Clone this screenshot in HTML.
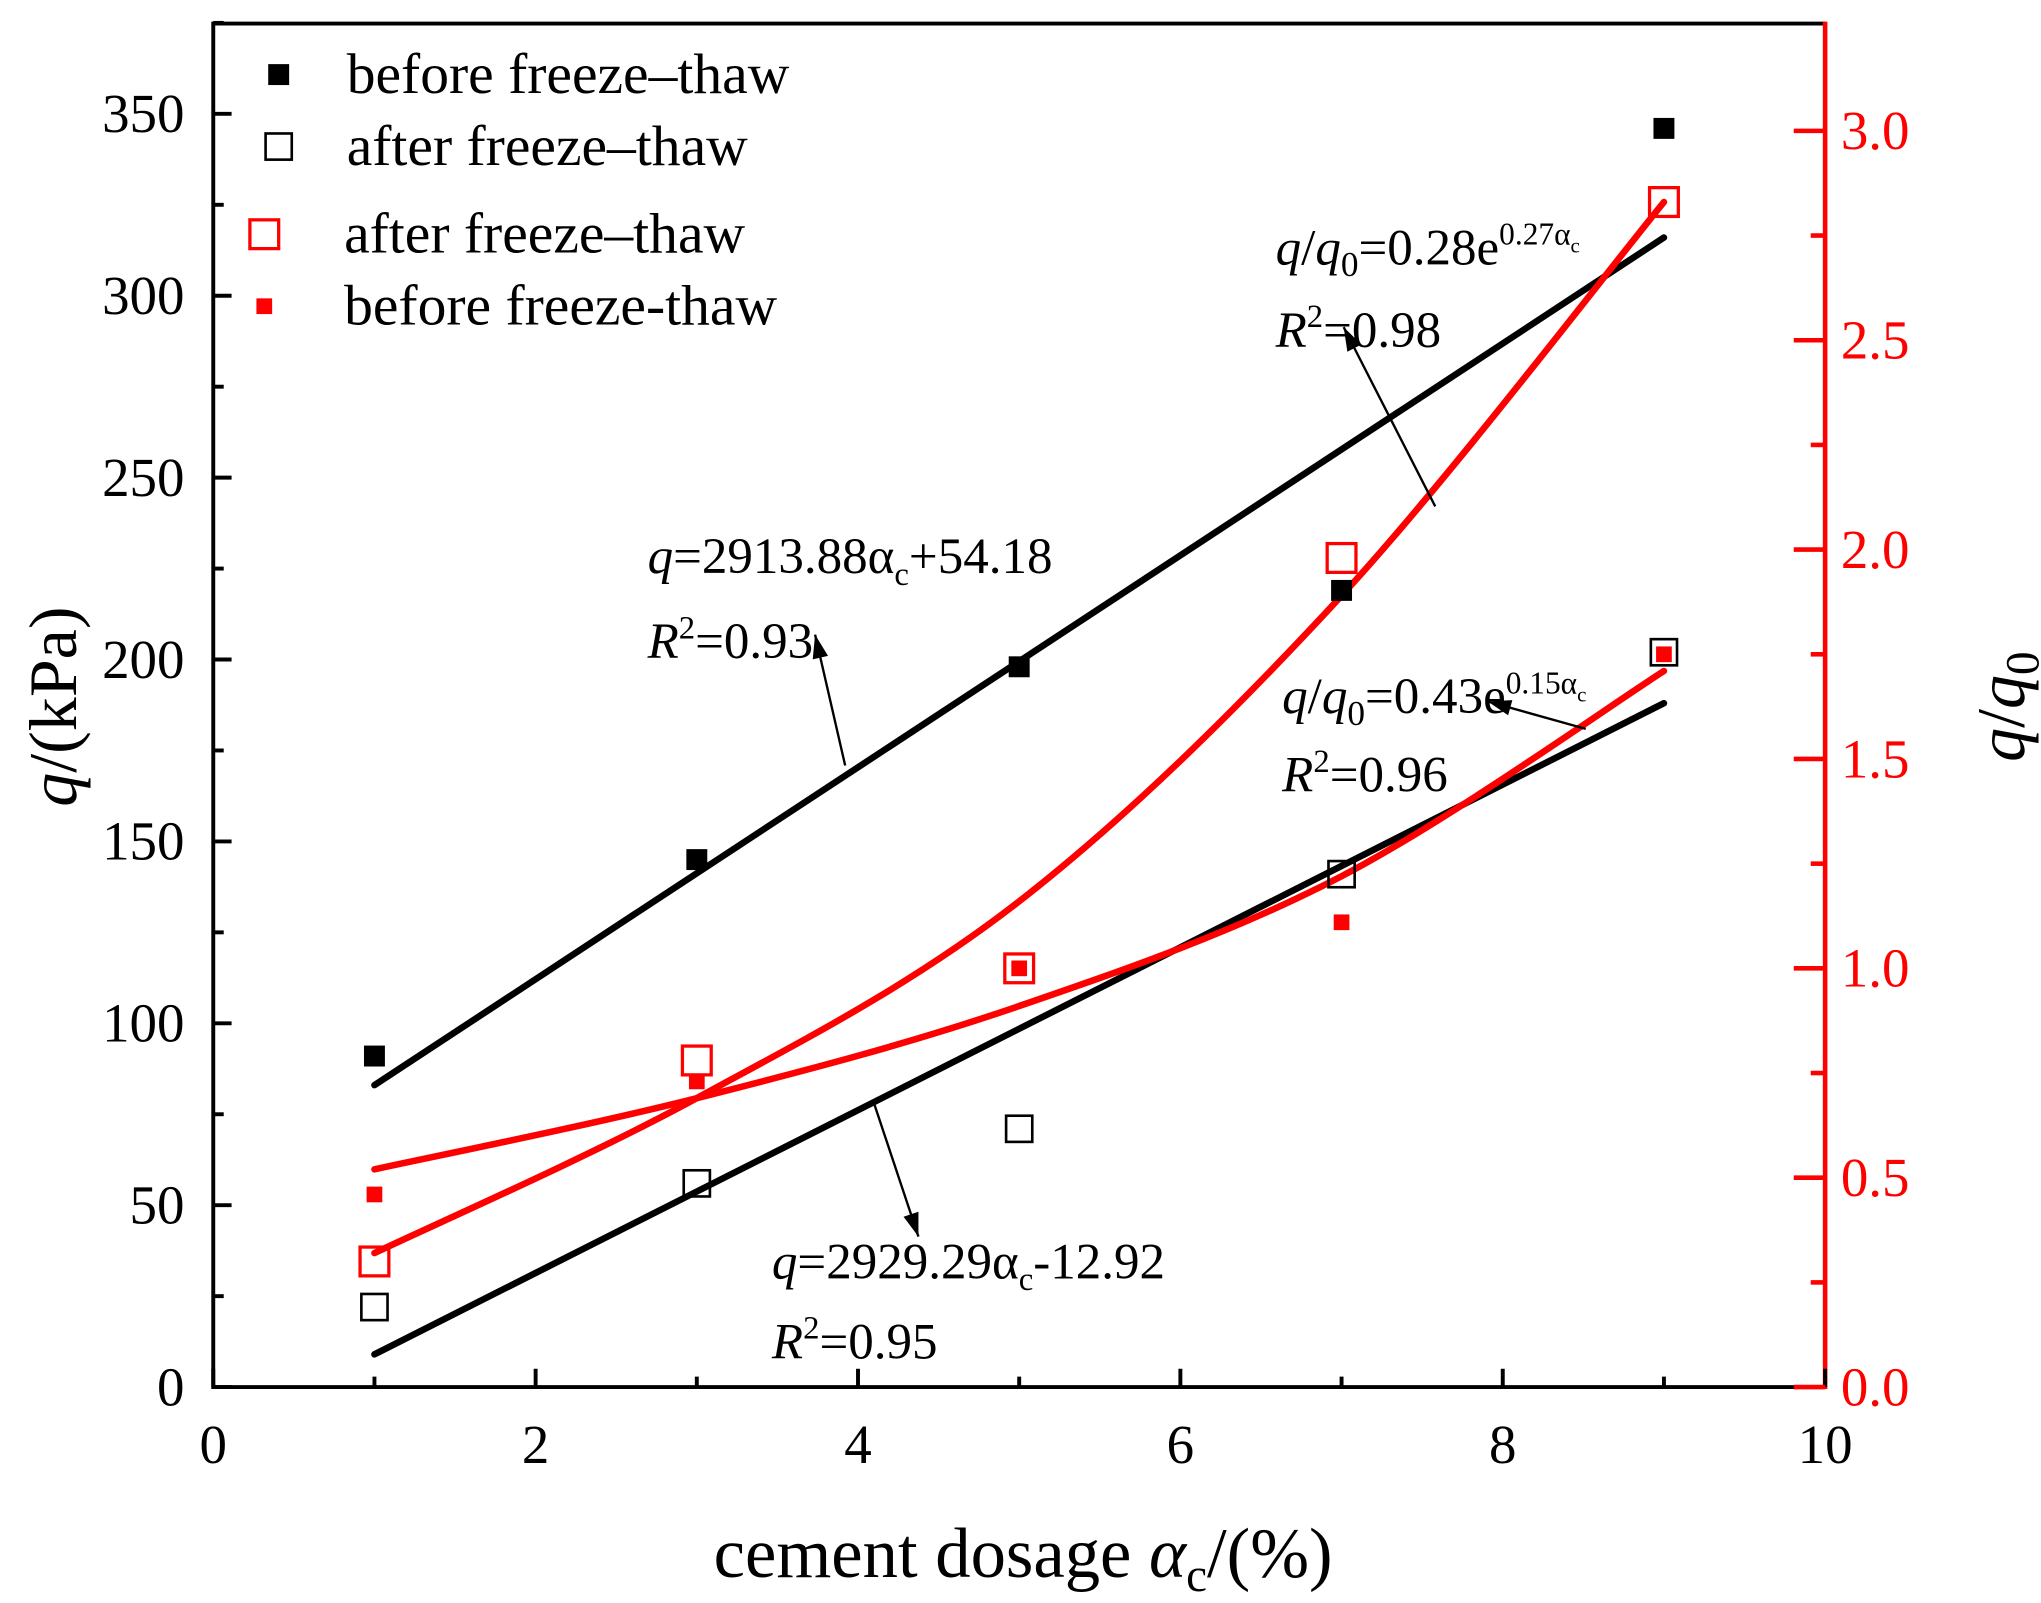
<!DOCTYPE html>
<html><head><meta charset="utf-8"><style>
html,body{margin:0;padding:0;background:#fff}
svg{display:block}
text{font-family:"Liberation Serif",serif}
</style></head><body>
<svg id="chart" width="2041" height="1603" viewBox="0 0 1560 1225" preserveAspectRatio="none" xmlns="http://www.w3.org/2000/svg">
<g id="g"></g>
</svg>
<script>
const xs=[1,3,5,7,9];
const qBefore=[91,145,198,219,346];
const qAfter=[22,56,71,141,202];
const ratioAfter=[0.30,0.78,1.00,1.98,2.83];
const ratioBefore=[0.46,0.73,1.00,1.11,1.75];
const linBeforeEnds=[83,316];
const linAfterEnds=[9,188];
const fitRatioAfter=[0.32,0.69,1.16,1.89,2.83];
const fitRatioBefore=[0.52,0.69,0.91,1.22,1.71];
const xTicks=[0,2,4,6,8,10];
const yTicks=[0,50,100,150,200,250,300,350];
const y2Ticks=[0.0,0.5,1.0,1.5,2.0,2.5,3.0];

const L=163,R=1395,T=18,B=1060;
const X=v=>L+(R-L)*v/10;
const Y=v=>B-v*(B-87)/350;
const Y2=v=>B-v*320;
const NS='http://www.w3.org/2000/svg';
const g=document.getElementById('g');
function el(tag,attrs,txt){const e=document.createElementNS(NS,tag);for(const k in attrs)e.setAttribute(k,attrs[k]);if(txt!=null)e.textContent=txt;g.appendChild(e);return e;}

let e;
e=el('line',{x1:L,y1:T,x2:R,y2:T,stroke:'#000','stroke-width':3});

e=el('line',{x1:L,y1:T-1.5,x2:L,y2:B+1.5,stroke:'#000','stroke-width':3});

e=el('line',{x1:L,y1:B,x2:R,y2:B,stroke:'#000','stroke-width':3});

e=el('line',{x1:R,y1:T-1.5,x2:R,y2:B+1.5,stroke:'#f00','stroke-width':3.5});


xTicks.forEach((t,i)=>{
  e=el('line',{x1:X(t),y1:B,x2:X(t),y2:B-14,stroke:'#000','stroke-width':3});
  
  if(i<xTicks.length-1){e=el('line',{x1:X(t+1),y1:B,x2:X(t+1),y2:B-8,stroke:'#000','stroke-width':3});
  }
  e=el('text',{x:X(t),y:B+58,'font-size':42,'text-anchor':'middle'},String(t));
  
});
yTicks.forEach((t,i)=>{
  e=el('line',{x1:L,y1:Y(t),x2:L+14,y2:Y(t),stroke:'#000','stroke-width':3});
  
  e=el('line',{x1:L,y1:Y(t+25),x2:L+8,y2:Y(t+25),stroke:'#000','stroke-width':3});
  
  e=el('text',{x:L-22,y:Y(t)+14,'font-size':42,'text-anchor':'end'},String(t));
  
});
y2Ticks.forEach((t,i)=>{
  e=el('line',{x1:R,y1:Y2(t),x2:R-24,y2:Y2(t),stroke:'#f00','stroke-width':3.5});
  
  if(i<y2Ticks.length-1){e=el('line',{x1:R,y1:Y2(t+0.25),x2:R-11,y2:Y2(t+0.25),stroke:'#f00','stroke-width':3.5});
  }
  e=el('text',{x:R+12,y:Y2(t)+14,'font-size':42,fill:'#f00'},t.toFixed(1));
  
});

e=el('text',{x:782,y:1205,'font-size':54,'text-anchor':'middle'});

e.innerHTML='cement dosage <tspan font-style="italic">α</tspan><tspan font-size="36" dy="11">c</tspan><tspan dy="-11">/(%)</tspan>';
e=el('text',{transform:'translate(58,540) rotate(-90)','font-size':52,'text-anchor':'middle'});

e.innerHTML='<tspan font-style="italic">q</tspan>/(kPa)';
e=el('text',{transform:'translate(1547,540) rotate(-90)','font-size':52,'text-anchor':'middle'});

e.innerHTML='<tspan font-style="italic">q</tspan>/<tspan font-style="italic">q</tspan><tspan font-size="36" dy="11">0</tspan>';

e=el('line',{x1:X(1),y1:Y(linBeforeEnds[0]),x2:X(9),y2:Y(linBeforeEnds[1]),stroke:'#000','stroke-width':5,'stroke-linecap':'round'});

e=el('line',{x1:X(1),y1:Y(linAfterEnds[0]),x2:X(9),y2:Y(linAfterEnds[1]),stroke:'#000','stroke-width':5,'stroke-linecap':'round'});

function spline(vals){
  const p=xs.map((x,i)=>[X(x),Y2(vals[i])]);
  let d='M'+p[0][0]+','+p[0][1];
  for(let i=0;i<p.length-1;i++){
    const p0=p[Math.max(0,i-1)],p1=p[i],p2=p[i+1],p3=p[Math.min(p.length-1,i+2)];
    const c1=[p1[0]+(p2[0]-p0[0])/6,p1[1]+(p2[1]-p0[1])/6];
    const c2=[p2[0]-(p3[0]-p1[0])/6,p2[1]-(p3[1]-p1[1])/6];
    d+=' C'+c1.join(',')+' '+c2.join(',')+' '+p2.join(',');
  }
  return d;
}
e=el('path',{d:spline(fitRatioAfter),fill:'none',stroke:'#f00','stroke-width':5,'stroke-linecap':'round'});

e=el('path',{d:spline(fitRatioBefore),fill:'none',stroke:'#f00','stroke-width':5,'stroke-linecap':'round'});


xs.forEach((x,i)=>{
  e=el('rect',{x:X(x)-8,y:Y(qBefore[i])-8,width:16,height:16,fill:'#000'});
  
  e=el('rect',{x:X(x)-10,y:Y(qAfter[i])-10,width:20,height:20,fill:'none',stroke:'#000','stroke-width':2});
  
  e=el('rect',{x:X(x)-11,y:Y2(ratioAfter[i])-11,width:22,height:22,fill:'none',stroke:'#f00','stroke-width':2.5});
  
  e=el('rect',{x:X(x)-6,y:Y2(ratioBefore[i])-6,width:12,height:12,fill:'#f00'});
  
});

const leg=[['before freeze–thaw','bf',57],['after freeze–thaw','ah',112],['after freeze–thaw','rh',179],['before freeze-thaw','rf',234]];
leg.forEach(l=>{
  const y=l[2];
  if(l[1]=='bf')e=el('rect',{x:205,y:y-8,width:16,height:16,fill:'#000'});
  if(l[1]=='ah')e=el('rect',{x:203,y:y-10,width:20,height:20,fill:'none',stroke:'#000','stroke-width':2});
  if(l[1]=='rh')e=el('rect',{x:191,y:y-11,width:22,height:22,fill:'none',stroke:'#f00','stroke-width':2.5});
  if(l[1]=='rf')e=el('rect',{x:196,y:y-6,width:12,height:12,fill:'#f00'});
  
  e=el('text',{x:l[1]=='rh'||l[1]=='rf'?263:265,y:y+14,'font-size':44},l[0]);
  
});

function ann(x,y,html,name){e=el('text',{x:x,y:y,'font-size':39});e.innerHTML=html;}
ann(975,202,'<tspan font-style="italic">q</tspan>/<tspan font-style="italic">q</tspan><tspan font-size="27" dy="9">0</tspan><tspan dy="-9">=0.28e</tspan><tspan font-size="24" dy="-15">0.27α</tspan><tspan font-size="16" dy="6">c</tspan>','equation-ratio-after');
ann(975,265,'<tspan font-style="italic">R</tspan><tspan font-size="25" dy="-15">2</tspan><tspan dy="15">=0.98</tspan>','r2-ratio-after');
ann(495,438,'<tspan font-style="italic">q</tspan>=2913.88α<tspan font-size="25" dy="9">c</tspan><tspan dy="-9">+54.18</tspan>','equation-before');
ann(495,503,'<tspan font-style="italic">R</tspan><tspan font-size="25" dy="-15">2</tspan><tspan dy="15">=0.93</tspan>','r2-before');
ann(980,545,'<tspan font-style="italic">q</tspan>/<tspan font-style="italic">q</tspan><tspan font-size="27" dy="9">0</tspan><tspan dy="-9">=0.43e</tspan><tspan font-size="24" dy="-15">0.15α</tspan><tspan font-size="16" dy="6">c</tspan>','equation-ratio-before');
ann(980,605,'<tspan font-style="italic">R</tspan><tspan font-size="25" dy="-15">2</tspan><tspan dy="15">=0.96</tspan>','r2-ratio-before');
ann(590,977,'<tspan font-style="italic">q</tspan>=2929.29α<tspan font-size="25" dy="9">c</tspan><tspan dy="-9">-12.92</tspan>','equation-after');
ann(590,1038,'<tspan font-style="italic">R</tspan><tspan font-size="25" dy="-15">2</tspan><tspan dy="15">=0.95</tspan>','r2-after');

function arrow(x1,y1,x2,y2,name){
  e=el('line',{x1:x1,y1:y1,x2:x2,y2:y2,stroke:'#000','stroke-width':1.8});
  
  const a=Math.atan2(y2-y1,x2-x1),s=18,w=6;
  const p=[[x2,y2],[x2-s*Math.cos(a)+w*Math.sin(a),y2-s*Math.sin(a)-w*Math.cos(a)],[x2-s*Math.cos(a)-w*Math.sin(a),y2-s*Math.sin(a)+w*Math.cos(a)]];
  e=el('polygon',{points:p.map(q=>q.join(',')).join(' '),fill:'#000'});
  
}
arrow(1097,387,1027,250,'arrow-ratio-after');
arrow(646,585,623,485,'arrow-before');
arrow(1212,557,1137,536,'arrow-ratio-before');
arrow(668,843,702,945,'arrow-after');
</script>
</body></html>
